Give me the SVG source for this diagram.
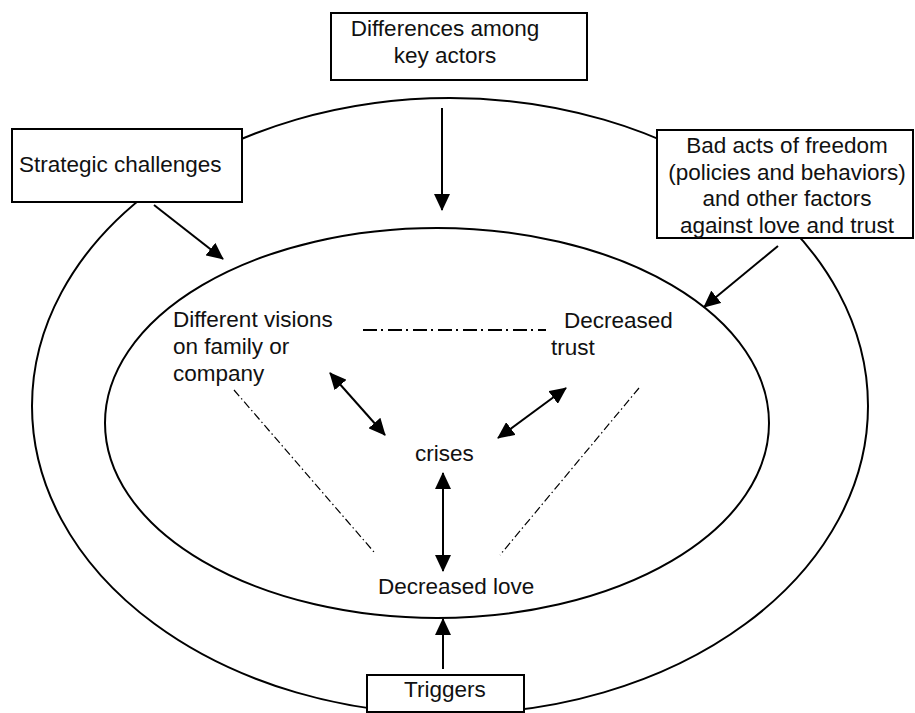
<svg xmlns="http://www.w3.org/2000/svg" width="915" height="713" viewBox="0 0 915 713">
  <style>
    .ring { fill: none; stroke: #000; stroke-width: 2; }
    .box { fill: #fff; stroke: #000; stroke-width: 2; }
    .lbl { font-family: "Liberation Sans", Arial, sans-serif; font-size: 22.5px; fill: #111; }
    .mid { text-anchor: middle; }
    .arrow { stroke: #000; stroke-width: 2; fill: none; }
    .chain { stroke: #000; stroke-width: 2; stroke-dasharray: 14 4 2 5; fill: none; }
    .fine { stroke: #000; stroke-width: 1.2; stroke-dasharray: 8 3 1.5 3; fill: none; }
  </style>
  <defs>
    <marker id="head" viewBox="0 0 17 16" markerWidth="17" markerHeight="16" markerUnits="userSpaceOnUse" refX="16" refY="8" orient="auto-start-reverse">
      <path d="M0,0 L17,8 L0,16 z" fill="#000"/>
    </marker>
  </defs>
  <rect width="915" height="713" fill="#fff"/>

  <!-- rings -->
  <g id="rings">
    <ellipse class="ring" cx="450" cy="406" rx="418" ry="308"/>
    <ellipse class="ring" cx="437" cy="423" rx="332" ry="195"/>
  </g>

  <!-- outer factor boxes -->
  <g id="differences">
    <rect class="box" x="331" y="13" width="256" height="67"/>
    <text class="lbl mid" x="445" y="36">Differences among</text>
    <text class="lbl mid" x="445" y="63">key actors</text>
  </g>
  <g id="strategic">
    <rect class="box" x="12" y="129" width="230" height="73"/>
    <text class="lbl" x="19" y="172">Strategic challenges</text>
  </g>
  <g id="badacts">
    <rect class="box" x="657" y="130" width="256" height="108"/>
    <text class="lbl mid" x="787" y="153">Bad acts of freedom</text>
    <text class="lbl mid" x="787" y="179.5">(policies and behaviors)</text>
    <text class="lbl mid" x="787" y="206">and other factors</text>
    <text class="lbl mid" x="787" y="232.5">against love and trust</text>
  </g>
  <g id="triggers">
    <rect class="box" x="367" y="675" width="157" height="37"/>
    <text class="lbl" x="404" y="697">Triggers</text>
  </g>

  <!-- inner nodes -->
  <g id="visions">
    <text class="lbl" x="173" y="327">Different visions</text>
    <text class="lbl" x="173" y="354">on family or</text>
    <text class="lbl" x="173" y="381">company</text>
  </g>
  <g id="trust">
    <text class="lbl" x="564" y="328">Decreased</text>
    <text class="lbl" x="551" y="355">trust</text>
  </g>
  <g id="crises">
    <text class="lbl" x="415" y="461">crises</text>
  </g>
  <g id="love">
    <text class="lbl" x="378" y="594">Decreased love</text>
  </g>

  <!-- connectors -->
  <g id="connectors">
    <line class="arrow" x1="442" y1="108" x2="442" y2="210" marker-end="url(#head)"/>
    <line class="arrow" x1="154" y1="205" x2="223" y2="259" marker-end="url(#head)"/>
    <line class="arrow" x1="778" y1="246" x2="704" y2="307" marker-end="url(#head)"/>
    <line class="arrow" x1="330" y1="373" x2="385" y2="435" marker-start="url(#head)" marker-end="url(#head)"/>
    <line class="arrow" x1="566" y1="388" x2="498" y2="438" marker-start="url(#head)" marker-end="url(#head)"/>
    <line class="arrow" x1="443" y1="473" x2="443" y2="571" marker-start="url(#head)" marker-end="url(#head)"/>
    <line class="arrow" x1="443" y1="669" x2="443" y2="619" marker-end="url(#head)"/>
    <line class="chain" x1="363" y1="330" x2="546" y2="330"/>
    <line class="fine" x1="234" y1="390" x2="374" y2="552"/>
    <line class="fine" x1="639" y1="388" x2="500" y2="555"/>
  </g>
</svg>
